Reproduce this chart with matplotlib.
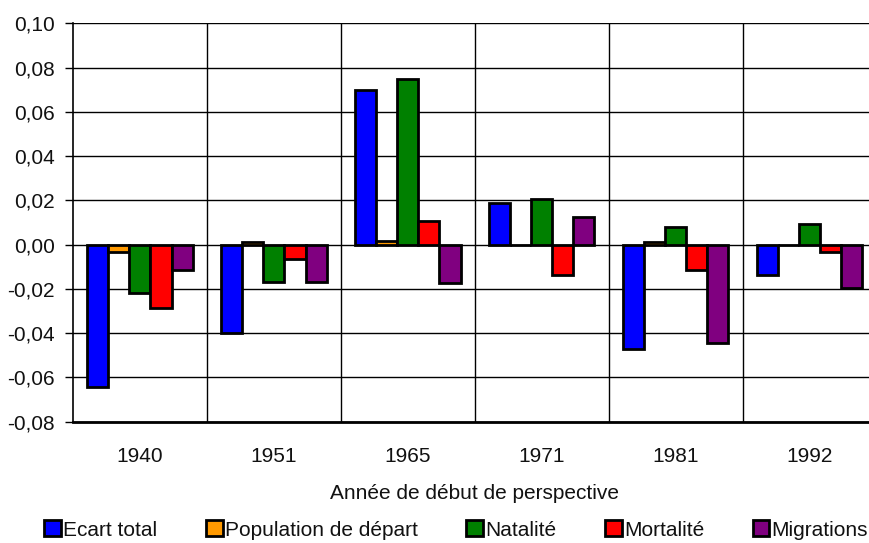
import matplotlib.pyplot as plt
import numpy as np
from matplotlib.ticker import FixedLocator

plt.rcParams['font.family'] = ['Liberation Sans', 'DejaVu Sans']

# Année de début de perspective
years = ['1940', '1951', '1965', '1971', '1981', '1992']

# Ecarts par composante
ecart_total = [-0.0642, -0.0400, 0.0699, 0.0187, -0.0473, -0.0137]
population_depart = [-0.0032, 0.0010, 0.0018, 0.0000, 0.0010, 0.0000]
natalite = [-0.0220, -0.0168, 0.0747, 0.0205, 0.0078, 0.0093]
mortalite = [-0.0285, -0.0066, 0.0107, -0.0137, -0.0115, -0.0035]
migrations = [-0.0115, -0.0170, -0.0175, 0.0123, -0.0443, -0.0195]

series = [
    ('Ecart total', ecart_total, '#0000FF'),
    ('Population de départ', population_depart, '#FF9900'),
    ('Natalité', natalite, '#008000'),
    ('Mortalité', mortalite, '#FF0000'),
    ('Migrations', migrations, '#800080'),
]

fs = 15
txt = '#111111'

fig = plt.figure(figsize=(8.69, 5.43), dpi=100)
ax = fig.add_axes([0.084, 0.2234, 0.925, 0.7337])

x = np.arange(len(years))
w = 0.157
handles = []
for i, (name, vals, col) in enumerate(series):
    b = ax.bar(x + (i - 2) * w, vals, width=w, color=col, edgecolor='black',
               linewidth=2, label=name, zorder=3)
    handles.append(b)

ax.set_xlim(-0.5, len(years) - 0.5)
ax.set_ylim(-0.08, 0.10)
yt = np.arange(-0.08, 0.1001, 0.02)
ax.set_yticks(yt)
ax.set_yticklabels([f'{v:.2f}'.replace('.', ',').replace('-0,00', '0,00') for v in yt])
ax.set_xticks(x)
ax.set_xticklabels(years)
ax.xaxis.set_minor_locator(FixedLocator(np.arange(0.5, len(years) - 0.5, 1)))

ax.grid(True, axis='y', color='black', linewidth=1, zorder=0)
ax.grid(True, axis='x', which='minor', color='black', linewidth=1, zorder=0)
ax.tick_params(axis='x', which='both', length=0, labelsize=fs, pad=18, labelcolor=txt)
ax.tick_params(axis='y', length=6, width=1, labelsize=fs, pad=7, colors='black',
               labelcolor=txt)

for s in ['top', 'right']:
    ax.spines[s].set_visible(False)
ax.spines['left'].set_linewidth(1.2)
ax.spines['bottom'].set_linewidth(2)

ax.set_xlabel('Année de début de perspective', fontsize=fs, labelpad=13.5, color=txt)

leg = fig.legend(handles=handles, loc='center', bbox_to_anchor=(0.525, 0.024),
                 ncol=5, frameon=False, fontsize=fs, handlelength=0.8,
                 handleheight=0.8, handletextpad=0.1, columnspacing=2.34,
                 borderpad=0, labelcolor=txt)

fig.savefig('out.png', dpi=100)
